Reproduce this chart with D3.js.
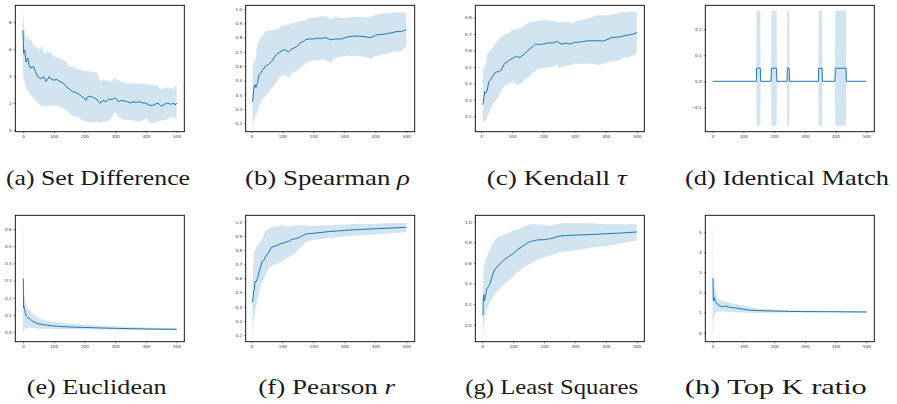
<!DOCTYPE html>
<html>
<head>
<meta charset="utf-8">
<script src="https://cdn.jsdelivr.net/npm/d3@7"></script>
<style>
    body { margin: 0; background: #fff; }
    .tick text { font-family: "DejaVu Sans", sans-serif; font-size: 4.2px; fill: #3a3a3a; }
    .tick line { stroke: #222; stroke-width: 0.5; }
</style>
</head>
<body>
<svg id="chart" width="897" height="404"></svg>
<script>
/*global d3*/
// (a) Set Difference
var setDiffX = [0, 1, 2, 4, 6, 8, 10, 13, 16, 19, 22, 25, 30, 35, 40, 45, 50, 55, 60, 65, 70, 75, 80, 85, 90, 95, 100, 110, 120, 130, 140, 150, 160, 170, 180, 190, 200, 205, 210, 220, 230, 240, 245, 250, 255, 260, 270, 280, 290, 300, 310, 320, 330, 340, 350, 360, 370, 380, 390, 400, 410, 420, 430, 440, 450, 460, 470, 480, 490, 495, 500];
var setDiffMean = [7.4, 6.6, 5.7, 5.9, 5.95, 5.4, 5.05, 5.25, 5.35, 4.85, 4.75, 4.6, 4.65, 4.7, 4.35, 4.1, 3.9, 3.85, 3.8, 3.95, 3.9, 3.6, 3.75, 3.95, 3.8, 3.75, 3.7, 3.75, 3.6, 3.5, 3.25, 3.05, 2.85, 2.8, 2.7, 2.5, 2.35, 2.2, 2.45, 2.5, 2.4, 2.3, 2.1, 2.0, 2.05, 2.2, 2.1, 2.3, 2.25, 2.4, 2.1, 2.2, 2.15, 2.1, 2.0, 2.1, 2.05, 2.1, 2.0, 2.0, 1.85, 1.8, 1.9, 2.0, 1.75, 1.9, 2.0, 1.9, 2.0, 1.85, 2.0];
var setDiffHigh = [8.0, 8.8, 8.2, 7.6, 7.3, 7.0, 6.8, 6.6, 7.2, 6.7, 6.6, 6.9, 6.5, 6.3, 6.2, 6.1, 6.05, 5.9, 6.3, 5.9, 5.7, 5.75, 5.9, 5.7, 5.8, 5.6, 5.45, 5.4, 5.3, 5.2, 5.1, 4.7, 4.75, 4.6, 4.5, 4.45, 4.4, 4.35, 4.4, 4.33, 4.3, 4.26, 4.1, 3.6, 3.65, 3.75, 3.7, 3.6, 3.65, 3.85, 3.65, 3.6, 3.5, 3.47, 3.45, 3.47, 3.45, 3.42, 3.45, 3.42, 3.35, 3.34, 3.3, 3.22, 2.97, 3.17, 3.12, 3.1, 3.02, 3.27, 3.27];
var setDiffLow = [4.5, 4.0, 3.8, 3.7, 3.5, 3.3, 3.1, 3.0, 2.9, 2.85, 2.7, 2.6, 2.48, 2.35, 2.23, 2.1, 1.98, 1.85, 1.78, 1.75, 1.8, 1.7, 1.78, 1.85, 1.8, 1.75, 1.86, 1.8, 1.73, 1.6, 1.49, 1.24, 1.05, 0.99, 0.94, 0.8, 0.62, 0.6, 0.6, 0.54, 0.58, 0.59, 0.55, 0.5, 0.55, 0.62, 0.6, 0.7, 1.0, 1.36, 0.99, 0.85, 0.74, 0.75, 0.74, 0.7, 0.65, 0.62, 0.7, 0.87, 0.6, 0.45, 0.55, 0.62, 0.7, 0.74, 0.8, 0.99, 0.9, 0.87, 0.79];

// (b) Spearman rho
var spearmanX = [4, 6, 8, 10, 12, 15, 18, 20, 25, 30, 35, 40, 45, 50, 55, 60, 65, 75, 85, 90, 100, 110, 120, 130, 145, 150, 160, 170, 175, 185, 190, 200, 210, 220, 230, 240, 250, 255, 270, 290, 310, 330, 350, 370, 380, 385, 395, 400, 410, 420, 430, 440, 450, 460, 470, 480, 485, 490, 500];
var spearmanMean = [0.35, 0.38, 0.44, 0.46, 0.47, 0.45, 0.47, 0.48, 0.54, 0.55, 0.57, 0.58, 0.60, 0.605, 0.61, 0.62, 0.63, 0.665, 0.69, 0.695, 0.71, 0.715, 0.70, 0.72, 0.735, 0.745, 0.765, 0.775, 0.785, 0.79, 0.79, 0.79, 0.795, 0.795, 0.795, 0.80, 0.79, 0.785, 0.79, 0.79, 0.805, 0.81, 0.81, 0.805, 0.80, 0.80, 0.81, 0.815, 0.822, 0.822, 0.824, 0.828, 0.832, 0.838, 0.842, 0.842, 0.843, 0.848, 0.855];
var spearmanHigh = [0.50, 0.60, 0.65, 0.67, 0.62, 0.66, 0.72, 0.76, 0.77, 0.80, 0.81, 0.82, 0.84, 0.85, 0.85, 0.85, 0.855, 0.855, 0.86, 0.865, 0.885, 0.888, 0.89, 0.90, 0.905, 0.91, 0.915, 0.92, 0.925, 0.93, 0.935, 0.94, 0.94, 0.945, 0.953, 0.945, 0.94, 0.925, 0.945, 0.935, 0.94, 0.945, 0.945, 0.94, 0.94, 0.945, 0.955, 0.96, 0.962, 0.965, 0.968, 0.97, 0.972, 0.975, 0.978, 0.975, 0.975, 0.97, 0.975];
var spearmanLow = [0.20, 0.19, 0.22, 0.22, 0.26, 0.25, 0.27, 0.29, 0.32, 0.34, 0.36, 0.38, 0.39, 0.40, 0.41, 0.43, 0.44, 0.47, 0.50, 0.525, 0.535, 0.54, 0.515, 0.55, 0.565, 0.575, 0.59, 0.61, 0.615, 0.63, 0.635, 0.64, 0.64, 0.645, 0.645, 0.64, 0.635, 0.62, 0.66, 0.665, 0.675, 0.67, 0.672, 0.66, 0.655, 0.65, 0.665, 0.67, 0.675, 0.68, 0.685, 0.69, 0.695, 0.70, 0.705, 0.70, 0.71, 0.72, 0.735];

// (c) Kendall tau
var kendallX = [6, 8, 10, 12, 15, 18, 20, 25, 30, 35, 40, 45, 50, 55, 60, 65, 70, 75, 80, 90, 100, 110, 115, 125, 130, 140, 150, 160, 165, 175, 185, 190, 200, 210, 215, 230, 245, 250, 260, 270, 285, 290, 300, 310, 330, 345, 350, 360, 370, 380, 390, 395, 410, 420, 430, 440, 450, 460, 470, 475, 480, 490, 500];
var kendallMean = [0.27, 0.30, 0.32, 0.35, 0.34, 0.35, 0.36, 0.41, 0.42, 0.435, 0.45, 0.465, 0.47, 0.47, 0.475, 0.48, 0.50, 0.52, 0.525, 0.54, 0.55, 0.565, 0.562, 0.558, 0.565, 0.58, 0.60, 0.615, 0.622, 0.64, 0.635, 0.637, 0.64, 0.643, 0.647, 0.645, 0.655, 0.648, 0.637, 0.645, 0.64, 0.642, 0.65, 0.65, 0.655, 0.66, 0.658, 0.66, 0.658, 0.66, 0.657, 0.66, 0.67, 0.68, 0.68, 0.682, 0.685, 0.69, 0.693, 0.695, 0.697, 0.70, 0.71];
var kendallHigh = [0.42, 0.50, 0.52, 0.50, 0.50, 0.55, 0.58, 0.59, 0.60, 0.61, 0.628, 0.64, 0.654, 0.66, 0.674, 0.68, 0.69, 0.695, 0.70, 0.705, 0.725, 0.73, 0.733, 0.735, 0.74, 0.755, 0.765, 0.775, 0.775, 0.778, 0.78, 0.783, 0.787, 0.785, 0.783, 0.78, 0.775, 0.77, 0.772, 0.775, 0.77, 0.765, 0.772, 0.78, 0.79, 0.795, 0.80, 0.805, 0.812, 0.815, 0.815, 0.813, 0.815, 0.82, 0.822, 0.826, 0.835, 0.832, 0.83, 0.834, 0.838, 0.836, 0.835];
var kendallLow = [0.15, 0.16, 0.17, 0.17, 0.18, 0.18, 0.19, 0.22, 0.24, 0.26, 0.28, 0.29, 0.30, 0.315, 0.34, 0.355, 0.37, 0.38, 0.39, 0.395, 0.41, 0.40, 0.39, 0.395, 0.40, 0.425, 0.435, 0.45, 0.46, 0.48, 0.49, 0.49, 0.495, 0.495, 0.498, 0.50, 0.512, 0.49, 0.50, 0.505, 0.51, 0.512, 0.522, 0.52, 0.52, 0.52, 0.52, 0.518, 0.515, 0.512, 0.52, 0.522, 0.532, 0.535, 0.535, 0.54, 0.545, 0.56, 0.555, 0.56, 0.562, 0.57, 0.585];

// (d) Identical Match
var identicalX = [0, 142, 143, 155, 156, 190, 191, 208, 209, 242, 243, 249, 250, 344, 345, 356, 357, 398, 399, 434, 435, 500];
var identicalMean = [0, 0, 0.05, 0.05, 0, 0, 0.05, 0.05, 0, 0, 0.05, 0.05, 0, 0, 0.05, 0.05, 0, 0, 0.05, 0.05, 0, 0];
var identicalHigh = [0, 0, 0.27, 0.27, 0, 0, 0.27, 0.27, 0, 0, 0.27, 0.27, 0, 0, 0.27, 0.27, 0, 0, 0.27, 0.27, 0, 0];
var identicalLow = [0, 0, -0.17, -0.17, 0, 0, -0.17, -0.17, 0, 0, -0.17, -0.17, 0, 0, -0.17, -0.17, 0, 0, -0.17, -0.17, 0, 0];

// (e) Euclidean
var euclidX = [0, 1, 2, 3, 5, 8, 10, 12, 15, 20, 25, 30, 40, 50, 60, 70, 80, 90, 100, 110, 130, 150, 175, 200, 250, 300, 350, 400, 450, 500];
var euclidMean = [0.31, 0.31, 0.14, 0.15, 0.13, 0.11, 0.095, 0.09, 0.085, 0.08, 0.072, 0.066, 0.056, 0.048, 0.045, 0.042, 0.04, 0.038, 0.036, 0.034, 0.032, 0.03, 0.028, 0.027, 0.024, 0.022, 0.02, 0.018, 0.017, 0.016];
var euclidHigh = [0.63, 0.6, 0.3, 0.23, 0.21, 0.18, 0.16, 0.15, 0.14, 0.128, 0.12, 0.11, 0.095, 0.082, 0.075, 0.07, 0.066, 0.063, 0.06, 0.058, 0.054, 0.05, 0.046, 0.042, 0.037, 0.032, 0.029, 0.026, 0.024, 0.022];
var euclidLow = [-0.01, 0.0, 0.0, 0.01, 0.019, 0.02, 0.02, 0.022, 0.024, 0.025, 0.025, 0.024, 0.022, 0.021, 0.02, 0.02, 0.019, 0.019, 0.018, 0.018, 0.017, 0.017, 0.016, 0.016, 0.015, 0.013, 0.012, 0.012, 0.011, 0.011];

// (f) Pearson r
var pearsonX = [4, 6, 8, 10, 12, 15, 20, 25, 30, 35, 40, 45, 50, 55, 60, 65, 80, 90, 100, 110, 120, 130, 140, 150, 160, 175, 180, 200, 250, 300, 350, 400, 450, 500];
var pearsonMean = [0.43, 0.47, 0.51, 0.52, 0.58, 0.575, 0.60, 0.645, 0.68, 0.72, 0.725, 0.75, 0.765, 0.78, 0.80, 0.82, 0.83, 0.84, 0.848, 0.855, 0.86, 0.875, 0.878, 0.885, 0.895, 0.912, 0.915, 0.918, 0.93, 0.938, 0.945, 0.95, 0.955, 0.96];
var pearsonHigh = [0.55, 0.68, 0.77, 0.80, 0.79, 0.82, 0.83, 0.84, 0.86, 0.88, 0.905, 0.93, 0.945, 0.95, 0.955, 0.96, 0.965, 0.97, 0.975, 0.97, 0.965, 0.97, 0.975, 0.975, 0.975, 0.975, 0.972, 0.97, 0.975, 0.98, 0.985, 0.985, 0.99, 0.99];
var pearsonLow = [0.20, 0.25, 0.30, 0.33, 0.36, 0.40, 0.45, 0.50, 0.54, 0.57, 0.59, 0.62, 0.65, 0.66, 0.68, 0.685, 0.70, 0.71, 0.717, 0.735, 0.75, 0.76, 0.776, 0.80, 0.82, 0.85, 0.86, 0.87, 0.885, 0.895, 0.905, 0.91, 0.918, 0.925];

// (g) Least Squares
var lsqX = [2, 3, 5, 7, 10, 15, 20, 25, 30, 35, 40, 50, 60, 70, 85, 100, 115, 130, 140, 150, 160, 175, 180, 200, 220, 250, 270, 280, 300, 350, 400, 450, 500];
var lsqMean = [0.09, 0.26, 0.29, 0.23, 0.28, 0.35, 0.37, 0.40, 0.45, 0.50, 0.535, 0.57, 0.60, 0.628, 0.66, 0.69, 0.73, 0.76, 0.78, 0.80, 0.81, 0.82, 0.824, 0.825, 0.835, 0.86, 0.865, 0.867, 0.87, 0.875, 0.883, 0.89, 0.90];
var lsqHigh = [0.30, 0.45, 0.60, 0.58, 0.63, 0.66, 0.70, 0.73, 0.76, 0.79, 0.82, 0.848, 0.86, 0.87, 0.89, 0.913, 0.925, 0.945, 0.958, 0.968, 0.977, 0.975, 0.972, 0.97, 0.96, 0.98, 0.988, 0.99, 0.985, 0.985, 0.975, 0.975, 0.975];
var lsqLow = [-0.11, -0.08, -0.03, 0.04, 0.10, 0.15, 0.19, 0.22, 0.246, 0.27, 0.30, 0.327, 0.36, 0.39, 0.43, 0.466, 0.515, 0.545, 0.57, 0.585, 0.60, 0.625, 0.63, 0.655, 0.675, 0.70, 0.71, 0.715, 0.72, 0.748, 0.764, 0.79, 0.82];

// (h) Top K ratio
var topKX = [0, 1, 2, 4, 6, 8, 12, 18, 25, 35, 40, 50, 70, 100, 120, 150, 200, 250, 300, 400, 500];
var topKMean = [2.7, 2.7, 1.6, 1.6, 1.75, 1.55, 1.5, 1.38, 1.33, 1.3, 1.33, 1.28, 1.24, 1.17, 1.12, 1.1, 1.08, 1.06, 1.05, 1.045, 1.03];
var topKHigh = [5.4, 5.0, 2.9, 2.7, 2.5, 2.2, 1.9, 1.65, 1.6, 1.55, 1.55, 1.5, 1.44, 1.35, 1.28, 1.2, 1.15, 1.12, 1.1, 1.09, 1.08];
var topKLow = [-0.3, 0.0, 0.3, 0.7, 0.9, 0.95, 1.02, 1.05, 1.05, 1.05, 1.05, 1.04, 1.02, 1.0, 0.99, 0.98, 0.99, 1.0, 1.0, 1.0, 0.99];

var xTicks = [0, 100, 200, 300, 400, 500];
var captionLabels = [
    ['(a) Set Difference', ''], ['(b) Spearman ', '\u03C1'], ['(c) Kendall ', '\u03C4'], ['(d) Identical Match', ''],
    ['(e) Euclidean', ''], ['(f) Pearson ', 'r'], ['(g) Least Squares', ''], ['(h) Top K ratio', '']
];

(function (d3) {
    'use strict';

    var LINE_COLOR = '#1f77b4',
        SERIF = '"Liberation Serif", "Times New Roman", "DejaVu Serif", Times, serif',
        PANEL_W = 169,
        PANEL_H = 126.4,
        svg = d3.select('#chart'),
        panels;

    function zip(xs, mean, low, high) {
        return xs.map(function (x, i) {
            return { x: x, mean: mean[i], low: low[i], high: high[i] };
        });
    }

    panels = [
        { left: 15.3, top: 5.3, xd: [-25, 525], yd: [-0.13, 9.26], yt: [0, 2, 4, 6, 8], fmt: 'd',
            data: zip(setDiffX, setDiffMean, setDiffLow, setDiffHigh), cx: 98, cy: 185, cw: 184 },
        { left: 245.7, top: 5.3, xd: [-18, 527], yd: [0.141, 1.026], yt: [0.2, 0.3, 0.4, 0.5, 0.6, 0.7, 0.8, 0.9, 1.0], fmt: '.1f',
            data: zip(spearmanX, spearmanMean, spearmanLow, spearmanHigh), cx: 327.5, cy: 185, cw: 165 },
        { left: 475.3, top: 5.3, xd: [-18.3, 524], yd: [0.106, 0.875], yt: [0.2, 0.3, 0.4, 0.5, 0.6, 0.7, 0.8], fmt: '.1f',
            data: zip(kendallX, kendallMean, kendallLow, kendallHigh), cx: 556.7, cy: 185, cw: 140 },
        { left: 705.3, top: 5.3, xd: [-24, 526], yd: [-0.193, 0.291], yt: [-0.1, 0, 0.1, 0.2], fmt: '.1f',
            data: zip(identicalX, identicalMean, identicalLow, identicalHigh), cx: 787, cy: 185, cw: 204 },
        { left: 15.3, top: 215.3, xd: [-25, 525], yd: [-0.056, 0.68], yt: [0, 0.1, 0.2, 0.3, 0.4, 0.5, 0.6], fmt: '.1f',
            data: zip(euclidX, euclidMean, euclidLow, euclidHigh), cx: 96.7, cy: 394, cw: 140 },
        { left: 245.7, top: 215.3, xd: [-18, 527], yd: [0.153, 1.045], yt: [0.2, 0.3, 0.4, 0.5, 0.6, 0.7, 0.8, 0.9, 1.0], fmt: '.1f',
            data: zip(pearsonX, pearsonMean, pearsonLow, pearsonHigh), cx: 326.7, cy: 394, cw: 137 },
        { left: 475.3, top: 215.3, xd: [-22.7, 524.6], yd: [-0.165, 1.062], yt: [0, 0.2, 0.4, 0.6, 0.8, 1.0], fmt: '.1f',
            data: zip(lsqX, lsqMean, lsqLow, lsqHigh), cx: 551.7, cy: 394, cw: 173 },
        { left: 705.3, top: 215.3, xd: [-24, 526], yd: [-0.45, 5.85], yt: [0, 1, 2, 3, 4, 5], fmt: 'd',
            data: zip(topKX, topKMean, topKLow, topKHigh), cx: 775.8, cy: 394, cw: 182 }
    ];

    function drawPanel(p, i) {
        var g = svg.append('g').attr('transform', 'translate(' + p.left + ',' + p.top + ')'),
            x = d3.scaleLinear().domain(p.xd).range([0, PANEL_W]),
            y = d3.scaleLinear().domain(p.yd).range([PANEL_H, 0]),
            fmt = d3.format(p.fmt),
            clipId = 'clip' + i,
            plot,
            cap;

        g.append('clipPath').attr('id', clipId)
            .append('rect').attr('width', PANEL_W).attr('height', PANEL_H);
        plot = g.append('g').attr('clip-path', 'url(#' + clipId + ')');

        plot.append('path')
            .datum(p.data)
            .attr('fill', LINE_COLOR)
            .attr('fill-opacity', 0.2)
            .attr('d', d3.area()
                .x(function (d) { return x(d.x); })
                .y0(function (d) { return y(d.low); })
                .y1(function (d) { return y(d.high); }));

        plot.append('path')
            .datum(p.data)
            .attr('fill', 'none')
            .attr('stroke', LINE_COLOR)
            .attr('stroke-width', 1)
            .attr('d', d3.line()
                .x(function (d) { return x(d.x); })
                .y(function (d) { return y(d.mean); }));

        g.append('g')
            .attr('transform', 'translate(0,' + PANEL_H + ')')
            .call(d3.axisBottom(x).tickValues(xTicks).tickSize(1.6).tickPadding(1.4))
            .call(function (a) { a.select('.domain').remove(); });

        g.append('g')
            .call(d3.axisLeft(y).tickValues(p.yt).tickSize(1.6).tickPadding(2)
                .tickFormat(function (v) { return fmt(v).replace('-', '\u2212'); }))
            .call(function (a) { a.select('.domain').remove(); });

        g.append('rect')
            .attr('width', PANEL_W)
            .attr('height', PANEL_H)
            .attr('fill', 'none')
            .attr('stroke', '#000')
            .attr('stroke-width', 0.9);

        cap = svg.append('text')
            .attr('x', p.cx)
            .attr('y', p.cy)
            .attr('text-anchor', 'middle')
            .attr('textLength', p.cw)
            .attr('lengthAdjust', 'spacingAndGlyphs')
            .style('font-family', SERIF)
            .style('font-size', '21px')
            .style('fill', '#1a1a1a');
        cap.append('tspan').text(captionLabels[i][0]);
        if (captionLabels[i][1]) {
            cap.append('tspan').style('font-style', 'italic').text(captionLabels[i][1]);
        }
    }

    svg.append('rect').attr('width', 897).attr('height', 404).attr('fill', '#fff');
    panels.forEach(drawPanel);
}(window.d3));
</script>
</body>
</html>
